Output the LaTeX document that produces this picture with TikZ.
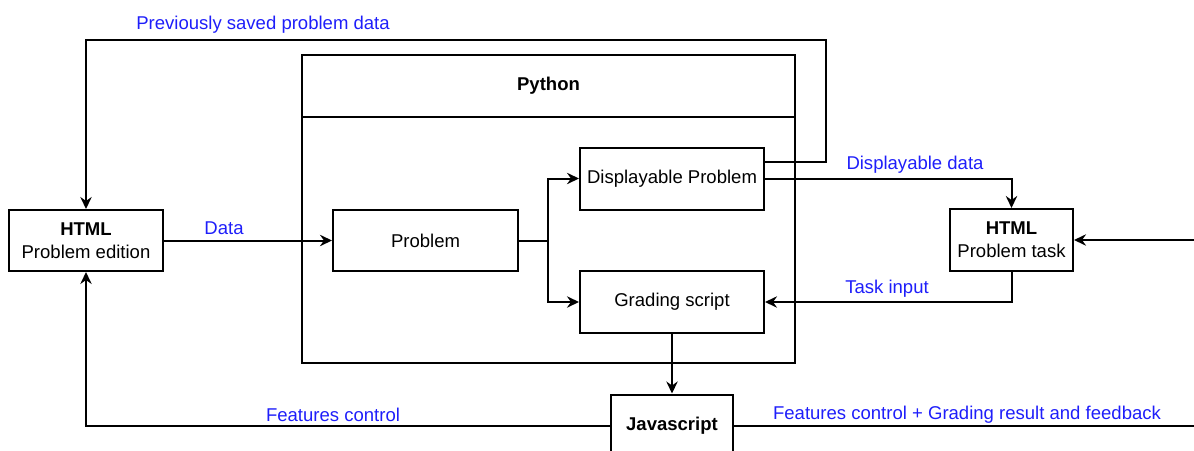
\documentclass[tikz,border=0pt]{standalone}
\usepackage{fontspec}
\setmainfont{Liberation Sans}
\usetikzlibrary{arrows.meta}
\definecolor{flowlabel}{RGB}{30,30,250}
\begin{document}
\begin{tikzpicture}[x=0.75pt,y=-0.75pt,line width=1.5pt,
  txt/.style={font=\fontsize{13.9}{17}\selectfont},
  box/.style={draw,txt,align=center,inner sep=0pt},
  arr/.style={-{Stealth[length=9pt,width=8.5pt,inset=3pt]}},
  lab/.style={txt,text=flowlabel,inner sep=0pt}]
\useasboundingbox (0,0) rectangle (1194,450);

% Python container with its title bar
\node[draw,minimum width=369.75pt,minimum height=231pt] (py) at (548.5,209) {};
\node[box,minimum width=369.75pt,minimum height=46.5pt,font=\fontsize{13.9}{17}\selectfont\bfseries] (pyhead) at (548.5,86) {Python};

% Blocks
\node[box,minimum width=115.5pt,minimum height=45.75pt] (edit) at (86,240.5) {\textbf{HTML}\\Problem edition};
\node[box,minimum width=138.75pt,minimum height=45.75pt] (prob) at (425.5,240.5) {Problem};
\node[box,minimum width=138pt,minimum height=46.5pt] (disp) at (672,178.5) {Displayable Problem};
\node[box,minimum width=138pt,minimum height=46.5pt] (grade) at (672,302) {Grading script};
\node[box,minimum width=92.25pt,minimum height=46.5pt] (task) at (1011.5,240) {\textbf{HTML}\\Problem task};
\node[box,minimum width=91.5pt,minimum height=46.5pt,font=\fontsize{13.9}{17}\selectfont\bfseries] (js) at (672,425.5) {Javascript};

% Helper points
\coordinate (split) at (548,240.5);
\coordinate (loopup) at (826,40);
\coordinate (rin) at (1194,240);
\coordinate (rout) at (1194,425.5);

% Connectors
\draw[arr] (edit.east) -- (prob.west);
\draw (prob.east) -- (split);
\draw[arr] (split) |- (disp.west);
\draw[arr] (split) |- (grade.west);
\draw[arr] ([yshift=-11.25pt]disp.north east) -| (loopup) -| (edit.north);
\draw[arr] (disp.east) -| (task.north);
\draw[arr] (rin) -- (task.east);
\draw[arr] (task.south) |- (grade.east);
\draw[arr] (grade.south) -- (js.north);
\draw[arr] (js.west) -| (edit.south);
\draw (js.east) -- (rout);

% Labels
\node[lab] (lprev) at (263,25) {Previously saved problem data};
\node[lab] (ldata) at (224,228) {Data};
\node[lab] (ldisp) at (915,165) {Displayable data};
\node[lab] (ltask) at (887,289) {Task input};
\node[lab] (lfeat) at (333,415) {Features control};
\node[lab] (lgrade) at (967,415) {Features control + Grading result and feedback};
\end{tikzpicture}
\end{document}
